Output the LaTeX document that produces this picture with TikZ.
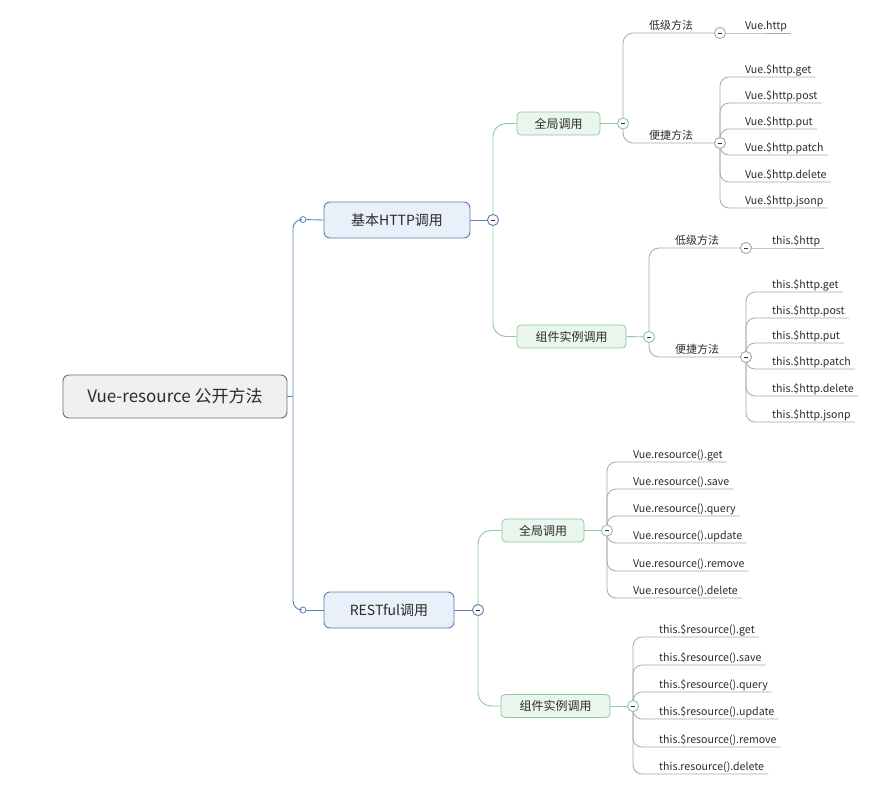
\documentclass[tikz,border=0pt]{standalone}
\usepackage{fontspec}
\setmainfont{Noto Sans CJK SC}
\definecolor{blueline}{HTML}{5A84B8}
\definecolor{l1border}{HTML}{5A80B5}
\definecolor{l1fill}{HTML}{E9F0F9}
\definecolor{greenline}{HTML}{8CC9A5}
\definecolor{l2border}{HTML}{8CCAA4}
\definecolor{l2fill}{HTML}{EAF5EE}
\definecolor{grayline}{HTML}{A8A8A8}
\definecolor{rootborder}{HTML}{6E6E6E}
\definecolor{rootfill}{HTML}{F0F0F0}
\definecolor{txt}{HTML}{2B2B2B}
\tikzset{
  rootbox/.style={draw=rootborder, fill=rootfill, rounded corners=6, line width=0.9, minimum width=224, minimum height=43, inner sep=0, text=txt, font=\fontsize{17}{20}\selectfont},
  lonebox/.style={draw=l1border, fill=l1fill, rounded corners=6, line width=0.9, minimum height=36, inner sep=0, text=txt, font=\fontsize{14}{17}\selectfont},
  ltwobox/.style={draw=l2border, fill=l2fill, rounded corners=4, line width=0.8, minimum height=23, inner sep=0, text=txt, font=\fontsize{12}{14}\selectfont},
  leaf/.style={anchor=south west, inner xsep=4, inner ysep=3, text depth=0, text=txt, font=\fontsize{10.6}{13}\selectfont},
  smallc/.style={circle, draw=blueline, fill=white, line width=0.8, inner sep=0, minimum size=6},
  coll/.style={circle, fill=white, line width=0.8, inner sep=0, minimum size=11,
     path picture={\draw[line width=0.9, black!80] ([xshift=-2.3]path picture bounding box.center) -- ([xshift=2.3]path picture bounding box.center);}},
  bl/.style={draw=blueline, line width=0.9},
  gl/.style={draw=greenline, line width=0.9},
  yl/.style={draw=grayline, line width=0.8},
}
\begin{document}
\begin{tikzpicture}[x=1pt,y=-1pt]
\useasboundingbox (0,0) rectangle (891,811);
\fill[white] (0,0) rectangle (891,811);

% root and level 1
\node[rootbox] (root) at (175,396.5) {Vue-resource 公开方法};
\coordinate (tr) at (293,396.5);
\node[smallc] (sA) at (303,219.5) {};
\node[smallc] (sB) at (303,610) {};
\node[lonebox, minimum width=146] (bA) at (397,220) {基本HTTP调用};
\node[lonebox, minimum width=130] (bB) at (389,610) {RESTful调用};
\draw[bl] (root.east) -- (tr);
\draw[bl, rounded corners=9] (sA) -| (tr) |- (sB);
\draw[bl] (sA) -- (bA.west);
\draw[bl] (sB) -- (bB.west);
\node[coll, draw=blueline] (cA) at (493,220) {};
\node[coll, draw=blueline] (cB) at (478,610) {};

% level 2
\node[ltwobox, minimum width=83] (gA) at (558.5,123.5) {全局调用};
\node[ltwobox, minimum width=109] (gB) at (571.5,336.5) {组件实例调用};
\node[ltwobox, minimum width=82] (gC) at (543,530.5) {全局调用};
\node[ltwobox, minimum width=109] (gD) at (555.5,706) {组件实例调用};
\draw[bl] (bA.east) -- (cA);
\draw[bl] (bB.east) -- (cB);
\draw[gl, rounded corners=13] (cA) |- (gA.west);
\draw[gl, rounded corners=13] (cA) |- (gB.west);
\draw[gl, rounded corners=13] (cB) |- (gC.west);
\draw[gl, rounded corners=13] (cB) |- (gD.west);
\node[coll, draw=blueline] at (cA) {};
\node[coll, draw=blueline] at (cB) {};

\node[coll, draw=greenline] (cgA) at (623,123.5) {};
\node[coll, draw=greenline] (cgB) at (649,337) {};
\node[coll, draw=greenline] (cgC) at (607,530.5) {};
\node[coll, draw=greenline] (cgD) at (633,706) {};
\draw[gl] (gA.east) -- (cgA);
\draw[gl] (gB.east) -- (cgB);
\draw[gl] (gC.east) -- (cgC);
\draw[gl] (gD.east) -- (cgD);

% level 3 (top group)
\node[leaf, font=\fontsize{11}{13}\selectfont] (lowA) at (645,33) {低级方法};
\node[leaf, font=\fontsize{11}{13}\selectfont] (fastA) at (645,143) {便捷方法};
\node[coll, draw=grayline] (clA) at (720,33) {};
\node[coll, draw=grayline] (cfA) at (720,143) {};
\draw[yl, rounded corners=10] (cgA) |- (lowA.south west) -- (clA);
\draw[yl, rounded corners=10] (cgA) |- (fastA.south west) -- (cfA);
\node[leaf] (vh) at (741,33) {Vue.http};
\draw[yl] (clA) -- (vh.south west) -- (vh.south east);
\foreach \y/\t [count=\i] in {77/Vue.\$http.get,103/Vue.\$http.post,129/Vue.\$http.put,155/Vue.\$http.patch,182/Vue.\$http.delete,208/Vue.\$http.jsonp}{
  \node[leaf] (ta\i) at (741,\y) {\t};
  \draw[yl, rounded corners=9] (cfA) |- (ta\i.south west) -- (ta\i.south east);
}
\node[coll, draw=grayline] at (clA) {};
\node[coll, draw=grayline] at (cfA) {};
\node[coll, draw=greenline] at (cgA) {};

% level 3 (second group)
\node[leaf, font=\fontsize{11}{13}\selectfont] (lowB) at (671,248) {低级方法};
\node[leaf, font=\fontsize{11}{13}\selectfont] (fastB) at (671,357) {便捷方法};
\node[coll, draw=grayline] (clB) at (746,248) {};
\node[coll, draw=grayline] (cfB) at (746,357) {};
\draw[yl, rounded corners=10] (cgB) |- (lowB.south west) -- (clB);
\draw[yl, rounded corners=10] (cgB) |- (fastB.south west) -- (cfB);
\node[leaf] (th) at (768,248) {this.\$http};
\draw[yl] (clB) -- (th.south west) -- (th.south east);
\foreach \y/\t [count=\i] in {292/this.\$http.get,318/this.\$http.post,343/this.\$http.put,369/this.\$http.patch,396/this.\$http.delete,422/this.\$http.jsonp}{
  \node[leaf] (tb\i) at (768,\y) {\t};
  \draw[yl, rounded corners=9] (cfB) |- (tb\i.south west) -- (tb\i.south east);
}
\node[coll, draw=grayline] at (clB) {};
\node[coll, draw=grayline] at (cfB) {};
\node[coll, draw=greenline] at (cgB) {};

% level 3 (third group)
\foreach \y/\t [count=\i] in {462/Vue.resource().get,489/Vue.resource().save,516/Vue.resource().query,543/Vue.resource().update,571/Vue.resource().remove,598/Vue.resource().delete}{
  \node[leaf] (tc\i) at (629,\y) {\t};
  \draw[yl, rounded corners=9] (cgC) |- (tc\i.south west) -- (tc\i.south east);
}
\node[coll, draw=greenline] at (cgC) {};

% level 3 (fourth group)
\foreach \y/\t [count=\i] in {637/this.\$resource().get,665/this.\$resource().save,692/this.\$resource().query,719/this.\$resource().update,747/this.\$resource().remove,774/this.resource().delete}{
  \node[leaf] (td\i) at (655,\y) {\t};
  \draw[yl, rounded corners=9] (cgD) |- (td\i.south west) -- (td\i.south east);
}
\node[coll, draw=greenline] at (cgD) {};
\end{tikzpicture}
\end{document}
